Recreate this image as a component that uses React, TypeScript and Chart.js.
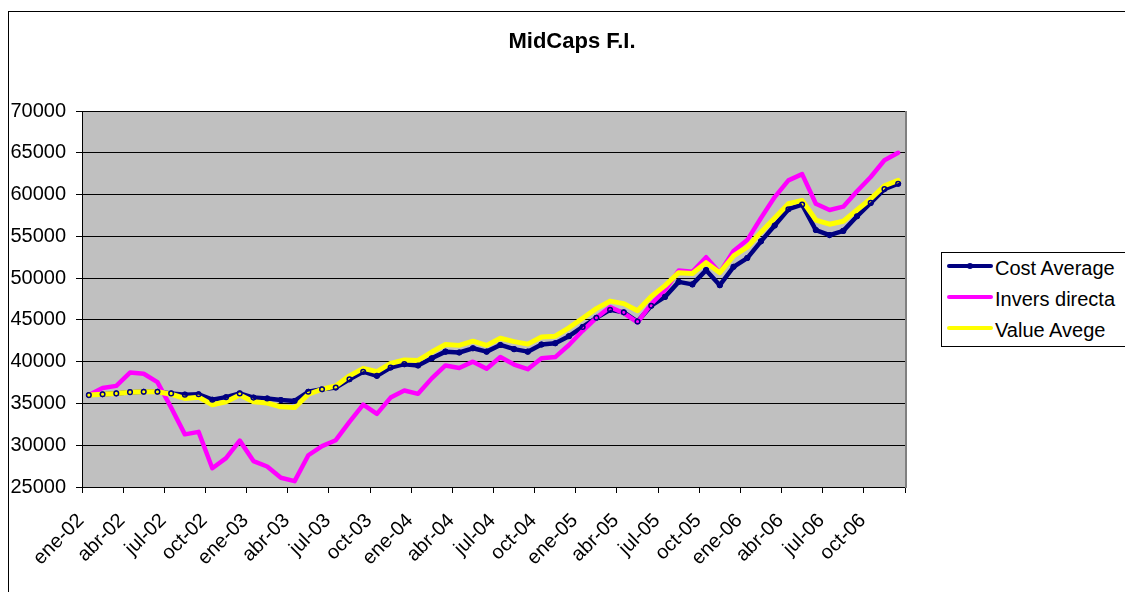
import React, { useEffect, useRef } from 'react';
import { Chart, registerables } from 'chart.js';

Chart.register(...registerables);

const TITLE = 'MidCaps F.I.';

const CATEGORIES = [
  'ene-02', 'feb-02', 'mar-02', 'abr-02', 'may-02', 'jun-02', 'jul-02', 'ago-02', 'sep-02', 'oct-02', 'nov-02', 'dic-02',
  'ene-03', 'feb-03', 'mar-03', 'abr-03', 'may-03', 'jun-03', 'jul-03', 'ago-03', 'sep-03', 'oct-03', 'nov-03', 'dic-03',
  'ene-04', 'feb-04', 'mar-04', 'abr-04', 'may-04', 'jun-04', 'jul-04', 'ago-04', 'sep-04', 'oct-04', 'nov-04', 'dic-04',
  'ene-05', 'feb-05', 'mar-05', 'abr-05', 'may-05', 'jun-05', 'jul-05', 'ago-05', 'sep-05', 'oct-05', 'nov-05', 'dic-05',
  'ene-06', 'feb-06', 'mar-06', 'abr-06', 'may-06', 'jun-06', 'jul-06', 'ago-06', 'sep-06', 'oct-06', 'nov-06', 'dic-06',
];

const COST_AVERAGE = [
  36000, 36100, 36200, 36350, 36400, 36400, 36200, 36050, 36100, 35450, 35750, 36200,
  35700, 35600, 35400, 35300, 36400, 36700, 36900, 37900, 38800, 38300, 39300, 39700,
  39550, 40400, 41200, 41100, 41600, 41200, 42000, 41500, 41200, 42050, 42200, 43050,
  44150, 45250, 46200, 45900, 44800, 46700, 47750, 49550, 49250, 50950, 49150, 51350,
  52400, 54400, 56300, 58250, 58800, 55750, 55150, 55650, 57400, 59000, 60650, 61300,
];

const INVERS_DIRECTA = [
  36000, 36850, 37100, 38700, 38550, 37550, 34500, 31300, 31600, 27250, 28450, 30550,
  28100, 27450, 26100, 25700, 28800, 29900, 30600, 32800, 34850, 33750, 35700, 36550,
  36150, 38000, 39550, 39250, 40000, 39150, 40550, 39650, 39100, 40400, 40550, 42000,
  43700, 45250, 46550, 45800, 44700, 46900, 48550, 50900, 50750, 52500, 50650, 53250,
  54550, 57200, 59700, 61700, 62450, 58900, 58150, 58550, 60400, 62100, 64100, 65000,
];

const VALUE_AVEGE = [
  36000, 36100, 36200, 36350, 36400, 36400, 36100, 35600, 35750, 34850, 35200, 36000,
  35200, 35050, 34600, 34500, 36100, 36700, 37100, 38300, 39200, 38800, 39800, 40200,
  40150, 41150, 42050, 41950, 42450, 41950, 42800, 42400, 42100, 42950, 43050, 44050,
  45200, 46350, 47250, 46950, 46100, 47800, 49100, 50650, 50550, 51850, 50650, 52650,
  53700, 55500, 57200, 58900, 59300, 56950, 56450, 56800, 58150, 59500, 61050, 61700,
];

const SERIES_NAMES = ['Cost Average', 'Invers directa', 'Value Avege'];
const SERIES_COLORS = ['#000080', '#FF00FF', '#FFFF00'];

const Y_MIN = 25000;
const Y_MAX = 70000;
const Y_STEP = 5000;

const FONT = "'Liberation Sans', Arial, Helvetica, sans-serif";

const plotBg = {
  id: 'plotBg',
  beforeDraw(chart: any) {
    const { ctx, chartArea: a } = chart;
    ctx.save();
    ctx.fillStyle = '#C0C0C0';
    ctx.fillRect(a.left, a.top, a.right - a.left, a.bottom - a.top);
    ctx.restore();
  },
  beforeDatasetsDraw(chart: any) {
    const { ctx, chartArea: a } = chart;
    ctx.save();
    ctx.strokeStyle = '#808080';
    ctx.lineWidth = 2;
    ctx.beginPath();
    ctx.moveTo(a.right + 1, a.top);
    ctx.lineTo(a.right + 1, a.bottom + 1);
    ctx.stroke();
    ctx.restore();
  },
};

export default function App() {
  const canvasRef = useRef<HTMLCanvasElement | null>(null);

  useEffect(() => {
    const canvas = canvasRef.current;
    if (!canvas) return;
    const chart = new Chart(canvas, {
      type: 'line',
      data: {
        labels: CATEGORIES,
        datasets: [
          {
            label: SERIES_NAMES[0],
            data: COST_AVERAGE,
            borderColor: SERIES_COLORS[0],
            backgroundColor: SERIES_COLORS[0],
            borderWidth: 4.5,
            pointRadius: 2.5,
            pointBackgroundColor: SERIES_COLORS[0],
            pointBorderColor: SERIES_COLORS[0],
            pointBorderWidth: 1,
            tension: 0,
            borderJoinStyle: 'round',
            borderCapStyle: 'round',
            order: 4,
          },
          {
            label: SERIES_NAMES[1],
            data: INVERS_DIRECTA,
            borderColor: SERIES_COLORS[1],
            backgroundColor: SERIES_COLORS[1],
            borderWidth: 4.5,
            pointRadius: 0,
            tension: 0,
            borderJoinStyle: 'round',
            borderCapStyle: 'round',
            order: 3,
          },
          {
            label: SERIES_NAMES[2],
            data: VALUE_AVEGE,
            borderColor: SERIES_COLORS[2],
            backgroundColor: SERIES_COLORS[2],
            borderWidth: 5,
            pointRadius: 0,
            tension: 0,
            borderJoinStyle: 'round',
            borderCapStyle: 'round',
            order: 2,
          },
          {
            label: SERIES_NAMES[0] + ' markers',
            data: COST_AVERAGE,
            showLine: false,
            pointRadius: 2.3,
            pointBackgroundColor: 'rgba(0,0,0,0)',
            pointBorderColor: SERIES_COLORS[0],
            pointBorderWidth: 1.5,
            order: 1,
          },
        ],
      },
      options: {
        responsive: false,
        animation: false,
        maintainAspectRatio: false,
        layout: { padding: { top: 111, right: 220, bottom: 0, left: 0 } },
        plugins: {
          legend: { display: false },
          title: { display: false },
          tooltip: { enabled: false },
        },
        scales: {
          x: {
            type: 'category',
            offset: true,
            grid: {
              offset: true,
              drawOnChartArea: false,
              drawTicks: true,
              tickLength: 6,
              tickColor: (c: any) =>
                c.index === undefined || c.index % 3 === 0 ? '#000000' : 'rgba(0,0,0,0)',
              lineWidth: 1,
            },
            border: { display: true, color: '#000000', width: 1 },
            ticks: {
              autoSkip: false,
              minRotation: 45,
              maxRotation: 45,
              padding: 16,
              labelOffset: -8,
              color: '#000000',
              font: { family: FONT, size: 20 },
              callback: (_v: any, index: number) => (index % 3 === 0 ? CATEGORIES[index] : ''),
            },
            afterFit: (scale: any) => {
              scale.height = 105;
            },
          },
          y: {
            min: Y_MIN,
            max: Y_MAX,
            ticks: {
              stepSize: Y_STEP,
              color: '#000000',
              padding: 10,
              font: { family: FONT, size: 20 },
              callback: (v: any) => String(v),
            },
            grid: { color: '#000000', lineWidth: 1, tickLength: 6, tickColor: '#000000' },
            border: { display: true, color: '#000000', width: 1 },
            afterFit: (scale: any) => {
              scale.width = 82;
            },
          },
        },
      },
      plugins: [plotBg],
    });
    return () => chart.destroy();
  }, []);

  const legendRows = SERIES_NAMES.map((name, i) => (
    <div key={name} style={{ position: 'relative', height: 31 }}>
      <div
        style={{
          position: 'absolute',
          left: 5,
          top: 11,
          width: 46,
          height: 4,
          background: SERIES_COLORS[i],
          borderRadius: 2,
        }}
      />
      {i === 0 && (
        <div
          style={{
            position: 'absolute',
            left: 25,
            top: 10,
            width: 6,
            height: 6,
            borderRadius: 3,
            background: SERIES_COLORS[0],
          }}
        />
      )}
      <div
        style={{
          position: 'absolute',
          left: 53,
          top: 0,
          height: 31,
          lineHeight: '31px',
          fontFamily: FONT,
          fontSize: 20,
          color: '#000',
          whiteSpace: 'nowrap',
        }}
      >
        {name}
      </div>
    </div>
  ));

  return (
    <div
      style={{
        position: 'fixed',
        left: 0,
        top: 0,
        width: 1125,
        height: 592,
        overflow: 'hidden',
        background: '#ffffff',
      }}
    >
      <div
        style={{
          position: 'absolute',
          left: 8,
          top: 11,
          width: 1300,
          height: 800,
          border: '1px solid #000',
          boxSizing: 'border-box',
        }}
      />
      <canvas
        ref={canvasRef}
        width={1125}
        height={592}
        style={{ position: 'absolute', left: 0, top: 0, width: 1125, height: 592 }}
      />
      <div
        style={{
          position: 'absolute',
          left: 472,
          top: 29,
          width: 200,
          textAlign: 'center',
          fontFamily: FONT,
          fontWeight: 'bold',
          fontSize: 22,
          lineHeight: '24px',
          color: '#000',
          whiteSpace: 'nowrap',
        }}
      >
        {TITLE}
      </div>
      <div
        style={{
          position: 'absolute',
          left: 941,
          top: 252,
          width: 300,
          height: 93,
          border: '1px solid #000',
          background: '#ffffff',
        }}
      >
        {legendRows}
      </div>
    </div>
  );
}
